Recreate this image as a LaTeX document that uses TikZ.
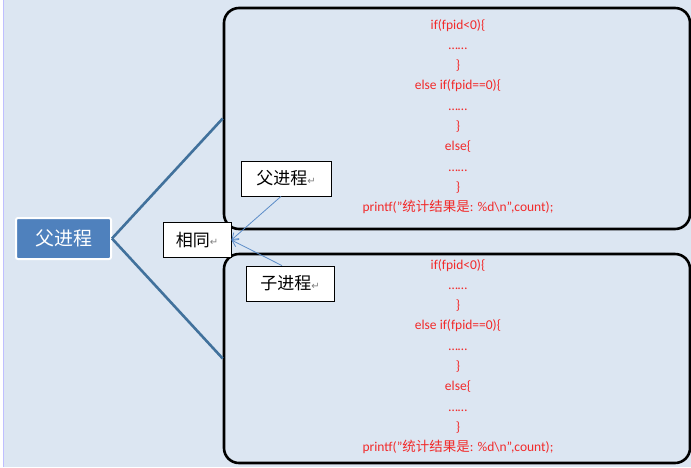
\documentclass[tikz,border=0pt]{standalone}
\usepackage{fontspec}
\setmainfont{Carlito}
\newfontfamily\cjk{Noto Sans CJK SC}
\newfontfamily\symfont{DejaVu Sans}
\usetikzlibrary{arrows.meta}
\definecolor{bgblue}{HTML}{DCE6F2}
\definecolor{rootblue}{HTML}{4F81BD}
\definecolor{linkblue}{HTML}{41719C}
\definecolor{arrblue}{HTML}{5B8CC8}
\definecolor{codered}{HTML}{F22A2A}
\newcommand{\ret}{{\symfont\fontsize{10}{10}\selectfont\color{gray}\raisebox{0.1ex}{↵}}}
\tikzset{
  bigbox/.style={draw=black, line width=2.6pt, rounded corners=15pt, minimum width=466pt, inner sep=0pt},
  rootbox/.style={fill=rootblue, draw=white, line width=2pt, rounded corners=2pt, minimum width=95pt, minimum height=41pt, text=white, font=\cjk\fontsize{19}{19}\selectfont},
  labelbox/.style={fill=white, draw=black, line width=0.8pt, minimum height=35pt, inner sep=0pt, font=\cjk\fontsize{17}{17}\selectfont},
  codetext/.style={text=codered, align=center, font=\fontsize{13.5}{20.3}\selectfont, inner sep=0pt},
  branch/.style={draw=linkblue, line width=2.6pt},
  pointer/.style={draw=arrblue, line width=0.8pt, -{Straight Barb[length=6pt,width=8pt]}}
}
\begin{document}
\begin{tikzpicture}[x=1pt,y=-1pt]
  \useasboundingbox (0,0) rectangle (691,467);
  \fill[bgblue] (0,0) rectangle (691,467);
  \fill[white] (0,0) rectangle (3,467);
  \draw[blue!25, line width=0.6pt] (3.3,0) -- (3.3,467);
  % big boxes
  \node[bigbox, minimum height=221pt] (topbox) at (457,118.5) {};
  \node[bigbox, minimum height=209pt] (botbox) at (457,358.5) {};
  % root
  \node[rootbox] (root) at (63.5,238.5) {父进程};
  \draw[branch] (root.east) -- (topbox.west);
  \draw[branch] (root.east) -- (botbox.west);
  % code
  \node[codetext] (codeA) at (458,116.5) {if(fpid<0)\{\\……\\\}\\else if(fpid==0)\{\\……\\\}\\else\{\\……\\\}\\printf("{\cjk 统计结果是}: \%d\textbackslash n",count);};
  \node[codetext] (codeB) at (458,356.5) {if(fpid<0)\{\\……\\\}\\else if(fpid==0)\{\\……\\\}\\else\{\\……\\\}\\printf("{\cjk 统计结果是}: \%d\textbackslash n",count);};
  % labels
  \node[labelbox, minimum width=68pt] (same) at (197,240) {相同\ret};
  \node[labelbox, minimum width=90pt] (fu) at (286,178.5) {父进程\ret};
  \node[labelbox, minimum width=88pt] (zi) at (290,283.5) {子进程\ret};
  \draw[pointer] ([xshift=-5pt]fu.south) -- (same.east);
  \draw[pointer] ([xshift=-8pt]zi.north) -- (same.east);
\end{tikzpicture}
\end{document}
